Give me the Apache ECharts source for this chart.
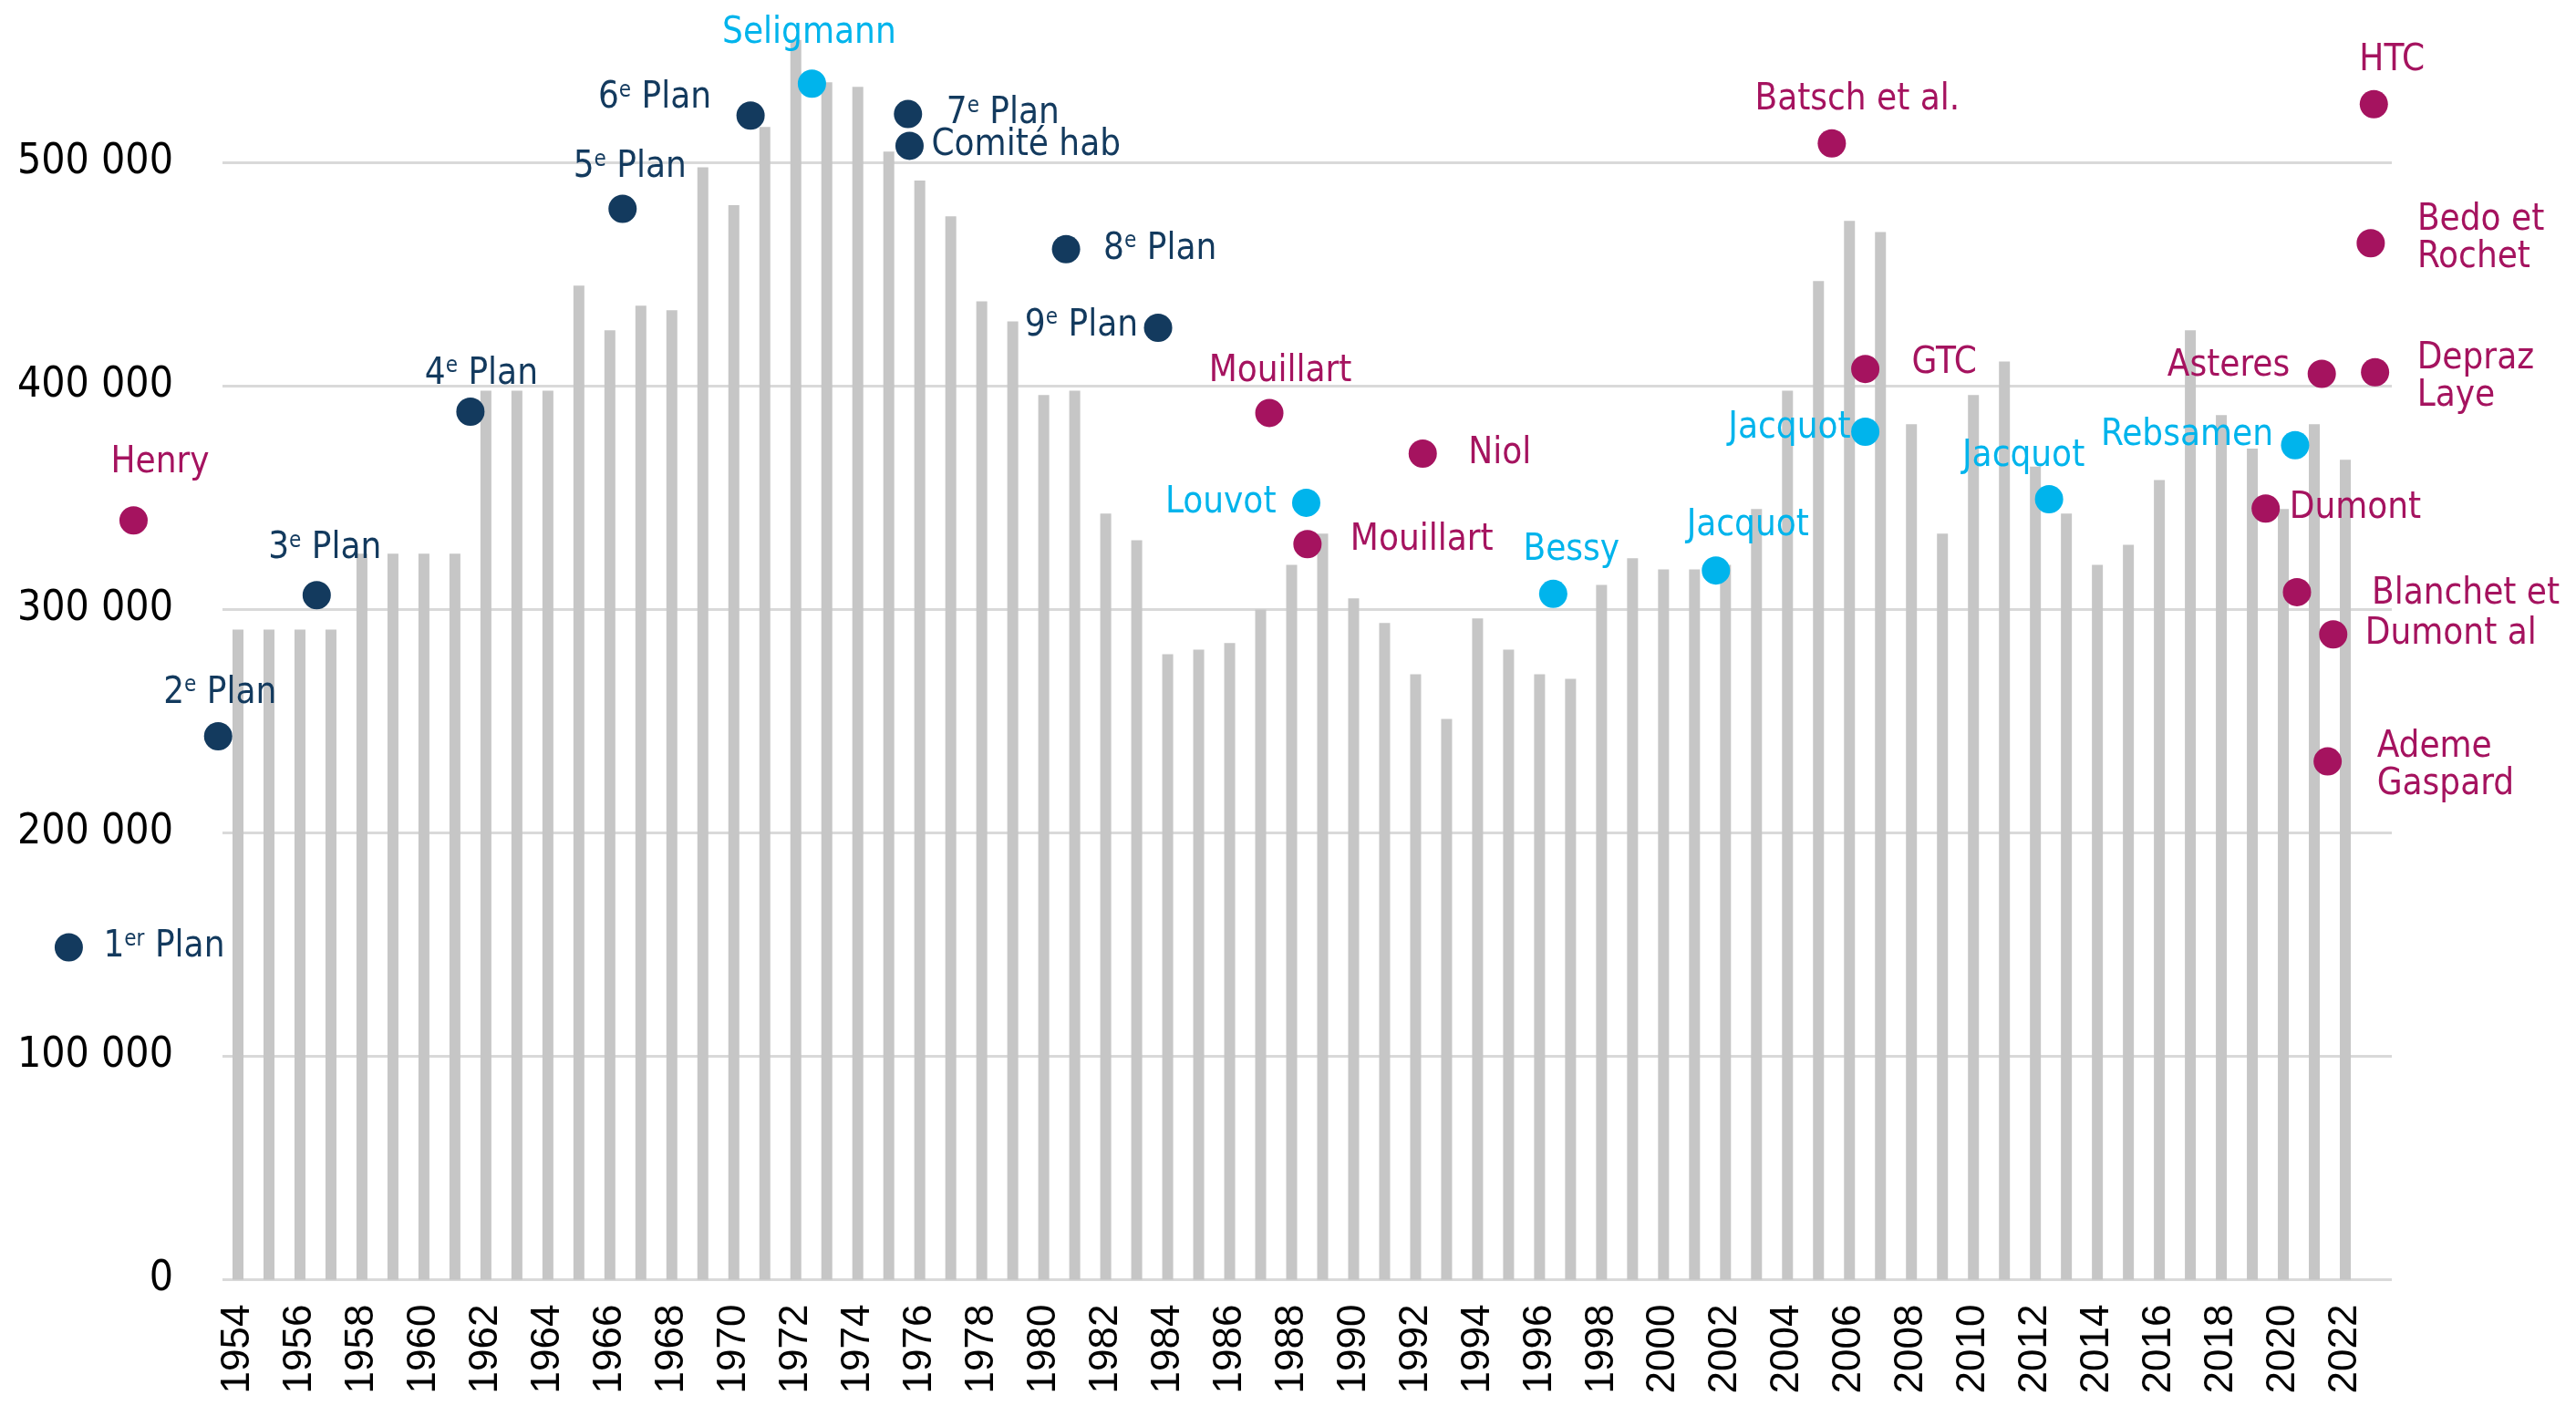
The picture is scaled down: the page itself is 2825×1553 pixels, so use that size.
<!DOCTYPE html>
<html><head><meta charset="utf-8">
<script src="https://cdn.jsdelivr.net/npm/echarts@6/dist/echarts.min.js"></script>
<style>html,body{margin:0;padding:0;background:#fff}#c{width:2825px;height:1553px}</style>
</head><body><div id="c"></div>
<script>
// ---- data ----
const years = ['1954','1955','1956','1957','1958','1959','1960','1961','1962','1963','1964','1965','1966','1967','1968','1969','1970','1971','1972','1973','1974','1975','1976','1977','1978','1979','1980','1981','1982','1983','1984','1985','1986','1987','1988','1989','1990','1991','1992','1993','1994','1995','1996','1997','1998','1999','2000','2001','2002','2003','2004','2005','2006','2007','2008','2009','2010','2011','2012','2013','2014','2015','2016','2017','2018','2019','2020','2021','2022','2023'];
const housing = [291000,291000,291000,291000,325000,325000,325000,325000,398000,398000,398000,445000,425000,436000,434000,498000,481000,516000,555000,536000,534000,505000,492000,476000,438000,429000,396000,398000,343000,331000,280000,282000,285000,300000,320000,334000,305000,294000,271000,251000,296000,282000,271000,269000,311000,323000,318000,318000,320000,345000,398000,447000,474000,469000,383000,334000,396000,411000,364000,343000,320000,329000,358000,425000,387000,372000,345000,383000,367000,null];
const yTicks = [0,100000,200000,300000,400000,500000];

const estNames  = ['1er Plan','2e Plan','3e Plan','4e Plan','5e Plan','6e Plan','Seligmann','7e Plan','Comité hab','8e Plan','9e Plan','Mouillart','Niol','Louvot','Mouillart','Bessy','Jacquot','Jacquot','Jacquot','GTC','Batsch et al.','HTC','Bedo et\nRochet','Asteres','Depraz\nLaye','Rebsamen','Dumont','Blanchet et','Dumont al','Ademe\nGaspard','Henry'];
const estYears  = [1948.54,1953.36,1956.54,1961.50,1966.41,1970.54,1972.52,1975.62,1975.67,1980.72,1983.69,1987.28,1992.23,1988.47,1988.51,1996.44,2001.69,2006.51,2012.44,2006.51,2005.43,2022.92,2022.82,2021.24,2022.96,2020.38,2019.43,2020.44,2021.61,2021.43,1950.63];
const estValues = [148800,243300,306400,388600,479400,521100,535400,521800,507600,461300,426100,388000,369800,347800,329300,307000,317500,379600,349400,407700,508700,526200,464000,405500,406200,373600,345200,307800,288900,232000,339900];
const estGroups = ['plan','plan','plan','plan','plan','plan','cyan','plan','plan','plan','plan','mag','mag','cyan','mag','cyan','cyan','cyan','cyan','mag','mag','mag','mag','mag','mag','cyan','mag','mag','mag','mag','mag'];

// ---- styling (label placement relative to each dot) ----
const groupColor = {plan:'#133A5E', cyan:'#00B4EC', mag:'#A5135F'};
const labelPlace = [
  ['l',38,0],['c',2,-47],['c',9,-51],['c',12,-41],['c',8,-45],['r',-43,-19],['c',-3,-55],
  ['l',42,0],['l',24,0],['l',41,0],['r',-22,-2],['c',12,-45],['l',50,0],['r',-33,0],
  ['l',47,-4],['c',20,-48],['c',35,-49],['r',-16,-4],['c',-28,-47],['l',51,-6],['c',28,-48],
  ['c',20,-48],['l',51,-5],['r',-35,-8],['l',46,6],['r',-24,-11],['l',26,0],['l',82,2],
  ['l',35,0],['l',54,5],['c',29,-63]
];
const FONT = "'DejaVu Sans Condensed','Liberation Sans Narrow','Roboto Condensed','DejaVu Sans',sans-serif";
const alignMap = {l:'left', r:'right', c:'center'};

function fmtName(name){
  const m = name.match(/^(\d+)(er|e) (.*)$/);
  if (m) return '{n|' + m[1] + '}{s|' + m[2] + '}{n| ' + m[3] + '}';
  return name;
}

const scatterData = estNames.map(function(name, i){
  const col = groupColor[estGroups[i]];
  const p = labelPlace[i];
  return {
    value: [estYears[i], estValues[i]],
    name: name,
    itemStyle: {color: col, opacity: 1},
    label: {
      show: true,
      position: 'inside',
      align: alignMap[p[0]],
      verticalAlign: 'middle',
      offset: [p[1], p[2]],
      color: col,
      opacity: 1,
      formatter: fmtName(name)
    }
  };
});

const chart = echarts.init(document.getElementById('c'), null, {renderer:'canvas'});
chart.setOption({
  animation: false,
  backgroundColor: '#ffffff',
  grid: {left: 244, right: 202, top: 31.5, bottom: 149.5, containLabel: false},
  xAxis: [
    {
      type: 'category', data: years, boundaryGap: true,
      axisLine: {show: false}, axisTick: {show: false}, splitLine: {show: false},
      axisLabel: {interval: 1, rotate: 90, margin: 27, fontSize: 44, color: '#000',
        fontFamily: "'Liberation Sans', Arial, sans-serif"}
    },
    {type: 'value', min: 1953.5, max: 2023.5, show: false}
  ],
  yAxis: {
    type: 'value', min: 0, max: 560000, interval: 100000,
    axisLine: {show: false}, axisTick: {show: false},
    splitLine: {show: true, showMaxLine: false, lineStyle: {color: '#d9d9d9', width: 3}},
    axisLabel: {
      margin: 54, fontSize: 46, color: '#000', fontFamily: FONT, showMaxLabel: false,
      formatter: function(v){
        if (yTicks.indexOf(v) < 0) return '';
        return v === 0 ? '0' : (v/1000) + ' 000';
      }
    }
  },
  series: [
    {
      type: 'bar', xAxisIndex: 0, yAxisIndex: 0, data: housing,
      barWidth: 12, itemStyle: {color: '#c6c6c6'}, silent: true
    },
    {
      type: 'scatter', xAxisIndex: 1, yAxisIndex: 0, clip: false,
      symbol: 'circle', symbolSize: 31, silent: true,
      itemStyle: {opacity: 1},
      label: {
        show: true, fontSize: 40, lineHeight: 41, fontFamily: FONT,
        rich: {
          n: {fontSize: 40, lineHeight: 41, fontFamily: FONT},
          s: {fontSize: 24, lineHeight: 24, verticalAlign: 'top', fontFamily: FONT}
        }
      },
      data: scatterData
    }
  ]
});
</script>
</body></html>
